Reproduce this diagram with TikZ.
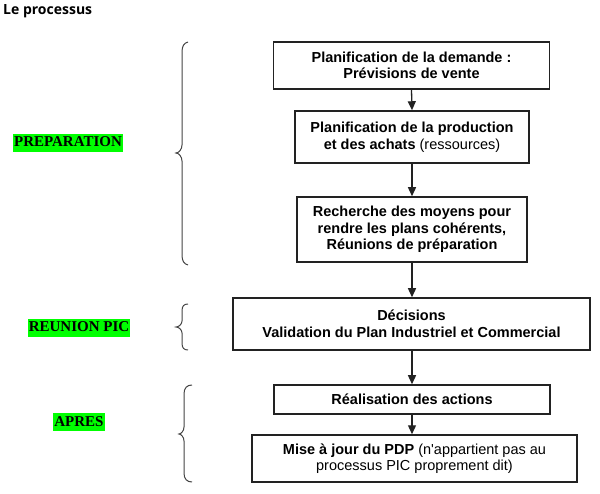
\documentclass[tikz,border=0pt]{standalone}
\usepackage{fontspec}
\usetikzlibrary{arrows.meta}
\newfontfamily\arialf{Liberation Sans}
\newfontfamily\tnrf{Liberation Serif}
\newfontfamily\titlef{Open Sans}
\definecolor{hlgreen}{HTML}{00FF00}
\definecolor{boxline}{HTML}{222222}
\definecolor{bracecol}{HTML}{444444}
\begin{document}
\begin{tikzpicture}[x=1pt,y=-1pt,
  procbox/.style={draw=boxline, line width=1.5pt, align=center, inner sep=0pt,
    font=\arialf\bfseries\fontsize{14.5}{16.5}\selectfont},
  flowarrow/.style={draw=boxline, line width=1.3pt, -{Triangle[length=9pt,width=8pt]}},
  phase/.style={fill=hlgreen, inner xsep=1pt, inner ysep=0pt, text height=13pt, text depth=5pt,
    font=\tnrf\bfseries\fontsize{15}{17}\selectfont},
  bracepath/.style={draw=bracecol, line width=1pt}]
\useasboundingbox (0,0) rectangle (600,494);
\node[anchor=base west, font=\titlef\bfseries\fontsize{14}{16}\selectfont, inner sep=0pt] (title) at (3,15) {Le processus};

\node[procbox, minimum width=276pt, minimum height=47pt] (b1) at (411.5,65.5) {Planification de la demande :\\Prévisions de vente};
\node[procbox, minimum width=234pt, minimum height=52pt] (b2) at (412,137) {Planification de la production\\et des achats {\mdseries(ressources)}};
\node[procbox, minimum width=230pt, minimum height=65pt] (b3) at (412,229.5) {Recherche des moyens pour\\rendre les plans cohérents,\\Réunions de préparation};
\node[procbox, minimum width=357pt, minimum height=52pt] (b4) at (411.5,324) {Décisions\\Validation du Plan Industriel et Commercial};
\node[procbox, minimum width=276pt, minimum height=29pt] (b5) at (412,399.5) {Réalisation des actions};
\node[procbox, minimum width=325pt, minimum height=47pt] (b6) at (414.5,458.5) {Mise à jour du PDP {\mdseries(n'appartient pas au}\\{\mdseries processus PIC proprement dit)}};

\draw[flowarrow] (b1.south) -- (b2.north);
\draw[flowarrow] (b2.south) -- (b3.north);
\draw[flowarrow] (b3.south) -- (b3.south |- b4.north);
\draw[flowarrow] (b4.south -| b5.south) -- (b5.north);
\draw[flowarrow] (b5.south) -- (b5.south |- b6.north);

\node[phase] (p1) at (68,143) {PREPARATION};
\node[phase] (p2) at (79,328) {REUNION PIC};
\node[phase] (p3) at (79,422) {APRES};

% brace PREPARATION
\draw[bracepath] (188,42) .. controls (184,43) and (182,46) .. (182,52) -- (182,145)
  .. controls (182,149) and (179,153) .. (176,153)
  .. controls (179,153) and (182,157) .. (182,161) -- (182,255)
  .. controls (182,261) and (184,264) .. (188,265);
% brace REUNION PIC
\draw[bracepath] (188,304) .. controls (184,304) and (182,306) .. (182,311) -- (182,321)
  .. controls (182,324) and (179,327) .. (176,327)
  .. controls (179,327) and (182,330) .. (182,333) -- (182,343)
  .. controls (182,348) and (184,350) .. (188,350);
% brace APRES
\draw[bracepath] (192,385) .. controls (187,385) and (184,388) .. (184,394) -- (184,427)
  .. controls (184,431) and (181,434) .. (179,434)
  .. controls (181,434) and (184,437) .. (184,441) -- (184,473)
  .. controls (184,479) and (187,482) .. (192,482);
\end{tikzpicture}
\end{document}
